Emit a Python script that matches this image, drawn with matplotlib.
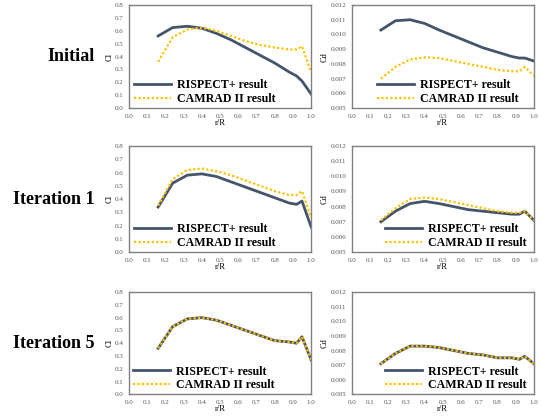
import matplotlib
matplotlib.use('Agg')
import matplotlib.pyplot as plt

# radial stations
r = [0.16, 0.24, 0.32, 0.40, 0.48, 0.56, 0.64, 0.72, 0.80, 0.88, 0.92, 0.95, 1.0]

# Cl, RISPECT+ / CAMRAD II
cl_init_rispect = [0.56, 0.625, 0.635, 0.62, 0.58, 0.53, 0.47, 0.41, 0.35, 0.28, 0.25, 0.21, 0.11]
cl_init_camrad = [0.36, 0.55, 0.61, 0.625, 0.60, 0.56, 0.52, 0.49, 0.47, 0.455, 0.455, 0.48, 0.28]
cl_it1_rispect = [0.34, 0.52, 0.58, 0.59, 0.57, 0.53, 0.49, 0.45, 0.41, 0.37, 0.36, 0.385, 0.19]
cl_it1_camrad = [0.35, 0.55, 0.62, 0.63, 0.61, 0.58, 0.54, 0.50, 0.46, 0.43, 0.43, 0.46, 0.26]
cl_it5_rispect = [0.36, 0.53, 0.59, 0.60, 0.58, 0.54, 0.50, 0.46, 0.42, 0.41, 0.40, 0.45, 0.27]
cl_it5_camrad = [0.36, 0.53, 0.59, 0.60, 0.58, 0.54, 0.50, 0.46, 0.42, 0.41, 0.40, 0.45, 0.27]

# Cd, RISPECT+ / CAMRAD II
cd_init_rispect = [0.0103, 0.01093, 0.0110, 0.01075, 0.0103, 0.0099, 0.0095, 0.0091, 0.0088, 0.0085, 0.0084, 0.0084, 0.0082]
cd_init_camrad = [0.0070, 0.0078, 0.0083, 0.00845, 0.0084, 0.0082, 0.0080, 0.0078, 0.0076, 0.0075, 0.0075, 0.0078, 0.0072]
cd_it1_rispect = [0.0070, 0.0077, 0.0082, 0.00835, 0.0082, 0.0080, 0.0078, 0.0077, 0.0076, 0.0075, 0.0075, 0.0077, 0.0071]
cd_it1_camrad = [0.0071, 0.0079, 0.0085, 0.0086, 0.0085, 0.0083, 0.0081, 0.0079, 0.0077, 0.0076, 0.0076, 0.0077, 0.0071]
cd_it5_rispect = [0.0071, 0.0078, 0.0083, 0.0083, 0.0082, 0.0080, 0.0078, 0.0077, 0.0075, 0.0075, 0.0074, 0.0076, 0.0071]
cd_it5_camrad = [0.0071, 0.0078, 0.0083, 0.0083, 0.0082, 0.0080, 0.0078, 0.0077, 0.0075, 0.0075, 0.0074, 0.0076, 0.0071]

row_labels = ['Initial', 'Iteration 1', 'Iteration 5']
cl_ticks = [0.0, 0.1, 0.2, 0.3, 0.4, 0.5, 0.6, 0.7, 0.8]
cd_ticks = [0.005, 0.006, 0.007, 0.008, 0.009, 0.010, 0.011, 0.012]
x_ticks = [0.0, 0.1, 0.2, 0.3, 0.4, 0.5, 0.6, 0.7, 0.8, 0.9, 1.0]

plt.rcParams['font.family'] = ['Liberation Serif', 'DejaVu Serif']

fig = plt.figure(figsize=(5.42, 4.16), dpi=100)

rows = [(0.740, 0.248), (0.394, 0.255), (0.052, 0.246)]
cols = [(0.238, 0.336), (0.649, 0.336)]
cl_data = [(cl_init_rispect, cl_init_camrad), (cl_it1_rispect, cl_it1_camrad), (cl_it5_rispect, cl_it5_camrad)]
cd_data = [(cd_init_rispect, cd_init_camrad), (cd_it1_rispect, cd_it1_camrad), (cd_it5_rispect, cd_it5_camrad)]
# where each legend starts (axes fraction), per row and column
leg_x = [[0.03, 0.14], [0.03, 0.185], [0.02, 0.18]]

navy = '#44546A'
gold = '#FFC000'

for i, (bot, h) in enumerate(rows):
    for j, (left, w) in enumerate(cols):
        ax = fig.add_axes([left, bot, w, h])
        if j == 0:
            ris, cam = cl_data[i]
            ax.set_ylim(0, 0.8)
            ax.set_yticks(cl_ticks)
            ax.set_yticklabels(['%.1f' % t for t in cl_ticks])
            ax.set_ylabel('Cl', fontsize=6, labelpad=1)
        else:
            ris, cam = cd_data[i]
            ax.set_ylim(0.005, 0.012)
            ax.set_yticks(cd_ticks)
            ax.set_yticklabels(['%.3f' % t for t in cd_ticks])
            ax.set_ylabel('Cd', fontsize=6, labelpad=1)
        ax.plot(r, ris, color=navy, lw=2.0, label='RISPECT+ result')
        ax.plot(r, cam, color=gold, lw=1.6, ls=(0, (1, 1)), label='CAMRAD II result')
        ax.set_xlim(0, 1.0)
        ax.set_xticks(x_ticks)
        ax.set_xticklabels(['%.1f' % t for t in x_ticks])
        ax.set_xlabel('r/R', fontsize=6, labelpad=0)
        ax.tick_params(length=0, labelsize=5, labelcolor='#555555', pad=4)
        for s in ax.spines.values():
            s.set_color('#808080')
            s.set_linewidth(1.0)
        ax.legend(loc='lower left', bbox_to_anchor=(leg_x[i][j], 0.03), frameon=False,
                  prop={'weight': 'bold', 'size': 8.6}, handlelength=3.1,
                  handletextpad=0.5, labelspacing=0.15, borderaxespad=0, borderpad=0)
    fig.text(0.175, bot + h * 0.5, row_labels[i], ha='right', va='center',
             fontsize=13, fontweight='bold')

fig.savefig('out.png', dpi=100)
